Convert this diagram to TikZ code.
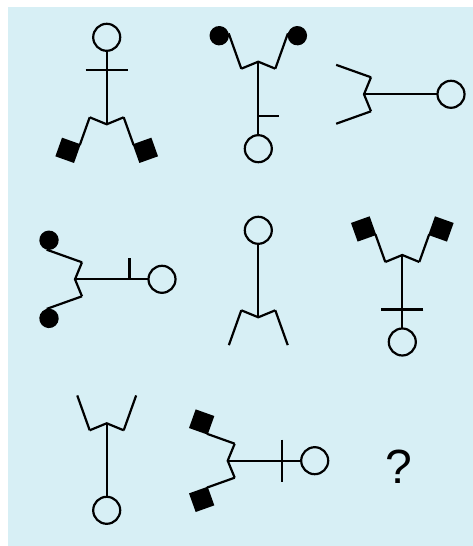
\documentclass[tikz,border=0pt]{standalone}
\usepackage{fontspec}
\setmainfont{Liberation Sans}
\definecolor{bgblue}{RGB}{215,239,245}
\tikzset{
  fl/.style={line width=2.2pt, line cap=butt, line join=miter, black},
  headcirc/.style={fl, fill=bgblue},
}
% arm types (drawn in an arm frame: arm along local -y, outer side = -x)
\newcommand\openarm{\draw[fl] (0,0) -- (0,-37);}
\newcommand\sqarm{\draw[fl] (0,0) -- (0,-29.5); \fill (0.6,-28.5) rectangle (-19.2,-48.3);}
\newcommand\dotarm{\draw[fl] (0,0) -- (0,-37.5); \fill (-9.7,-38.5) circle (9.7);}
% bar types
\newcommand\nobar{}
\newcommand\fullbar{\draw[fl] (-21,54.5) -- (21,54.5);}
\newcommand\halfbar{\draw[fl] (0,54.5) -- (-21,54.5);}
% figure: x, y, rotation, arm macro, bar macro
\newcommand\figdraw[5]{%
  \begin{scope}[shift={(#1,#2)},rotate=#3]
    \draw[fl] (0,73.5) -- (0,0);
    \draw[fl] (-17,7) -- (0,0) -- (17,7);
    \begin{scope}[shift={(-17,7)},rotate=-19.65] #4 \end{scope}
    \begin{scope}[xscale=-1]
      \begin{scope}[shift={(-17,7)},rotate=-19.65] #4 \end{scope}
    \end{scope}
    #5
    \draw[headcirc] (0,87) circle (13.5);
  \end{scope}}
\begin{document}
\begin{tikzpicture}[x=1pt,y=1pt]
  \useasboundingbox (0,0) rectangle (473,546);
  \fill[bgblue] (8,0) rectangle (473,539);
  \figdraw{106.7}{421.7}{0}{\sqarm}{\fullbar}
  \figdraw{258.3}{484.3}{180}{\dotarm}{\halfbar}
  \figdraw{364}{451.7}{-90}{\openarm}{\nobar}
  \figdraw{75}{266.7}{-90}{\dotarm}{\halfbar}
  \figdraw{258.3}{228.7}{0}{\openarm}{\nobar}
  \figdraw{402.3}{291}{180}{\sqarm}{\fullbar}
  \figdraw{106.7}{122.7}{180}{\openarm}{\nobar}
  \figdraw{227.7}{85.3}{-90}{\sqarm}{\fullbar}
  \node[inner sep=0pt, font=\fontsize{48}{48}\selectfont] (q) at (399.3,79.3) {?};
\end{tikzpicture}
\end{document}
